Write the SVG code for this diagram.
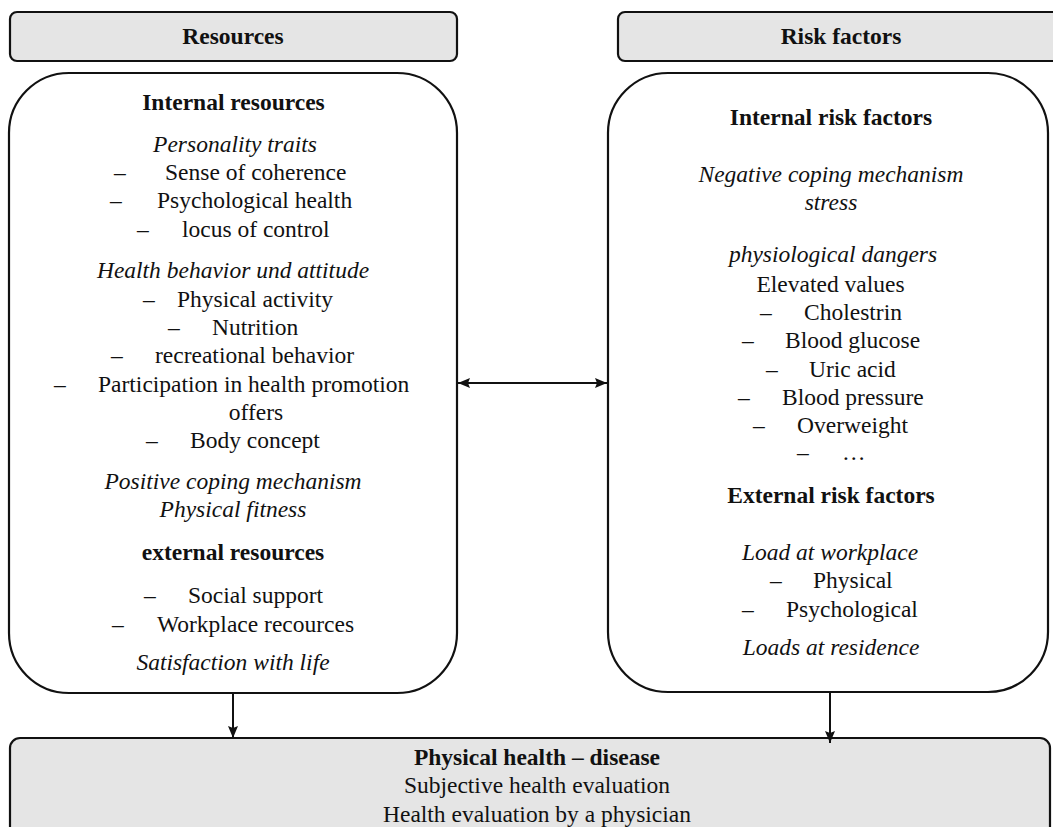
<svg xmlns="http://www.w3.org/2000/svg" width="1053" height="827" viewBox="0 0 1053 827">
<defs>
<style>
text{font-family:"Liberation Serif","Times New Roman",serif;font-size:23.5px;fill:#111}
.c{text-anchor:middle}
.b{font-weight:bold}
.i{font-style:italic}
.hdr{fill:#e5e5e5;stroke:#111;stroke-width:2.2}
.box{fill:#fff;stroke:#111;stroke-width:2.2}
.con{stroke:#111;stroke-width:2;fill:none}
</style>
<marker id="ah" markerWidth="12" markerHeight="10" refX="12" refY="5" orient="auto-start-reverse" markerUnits="userSpaceOnUse">
<path d="M0,0 L12,5 L0,10 L2,5 Z" fill="#111"/>
</marker>
</defs>
<rect width="1053" height="827" fill="#fff"/>

<g id="resources-header">
<rect class="hdr" x="10" y="12" width="447" height="49" rx="7"/>
<text class="c b" x="233" y="44">Resources</text>
</g>

<g id="risk-header">
<rect class="hdr" x="618" y="12" width="450" height="49" rx="7"/>
<text class="c b" x="841" y="44">Risk factors</text>
</g>

<g id="resources">
<rect class="box" x="9" y="73" width="448" height="620" rx="60"/>
<text class="c b" x="233.5" y="110">Internal resources</text>
<text class="c i" x="235" y="152">Personality traits</text>
<text x="114" y="180">–</text><text x="165" y="180">Sense of coherence</text>
<text x="110" y="208">–</text><text x="157" y="208">Psychological health</text>
<text x="137" y="237">–</text><text x="182" y="237">locus of control</text>
<text class="c i" x="233" y="278">Health behavior und attitude</text>
<text x="143" y="307">–</text><text x="177" y="307">Physical activity</text>
<text x="168" y="335">–</text><text x="212" y="335">Nutrition</text>
<text x="111" y="363">–</text><text x="155" y="363">recreational behavior</text>
<text x="54" y="392">–</text><text x="98" y="392">Participation in health promotion</text>
<text class="c" x="256" y="420">offers</text>
<text x="146" y="448">–</text><text x="190" y="448">Body concept</text>
<text class="c i" x="233" y="489">Positive coping mechanism</text>
<text class="c i" x="233" y="517">Physical fitness</text>
<text class="c b" x="233" y="560">external resources</text>
<text x="144" y="603">–</text><text x="188" y="603">Social support</text>
<text x="112" y="632">–</text><text x="157" y="632">Workplace recources</text>
<text class="c i" x="233" y="670">Satisfaction with life</text>
</g>

<g id="risk-factors">
<rect class="box" x="608" y="73" width="440" height="619" rx="60"/>
<text class="c b" x="831" y="125">Internal risk factors</text>
<text class="c i" x="831" y="182">Negative coping mechanism</text>
<text class="c i" x="831" y="210">stress</text>
<text class="c i" x="833" y="262">physiological dangers</text>
<text class="c" x="830.5" y="292">Elevated values</text>
<text x="760" y="320">–</text><text x="804" y="320">Cholestrin</text>
<text x="742" y="348">–</text><text x="785" y="348">Blood glucose</text>
<text x="766" y="377">–</text><text x="809" y="377">Uric acid</text>
<text x="738" y="405">–</text><text x="782" y="405">Blood pressure</text>
<text x="753" y="433">–</text><text x="797" y="433">Overweight</text>
<text x="797" y="460">–</text><text x="842" y="460">…</text>
<text class="c b" x="831" y="503">External risk factors</text>
<text class="c i" x="830" y="560">Load at workplace</text>
<text x="770" y="588">–</text><text x="813" y="588">Physical</text>
<text x="742" y="617">–</text><text x="786" y="617">Psychological</text>
<text class="c i" x="831" y="655">Loads at residence</text>
</g>

<g id="outcome">
<rect class="hdr" x="10" y="738" width="1040" height="110" rx="10"/>
<text class="c b" x="537" y="765">Physical health – disease</text>
<text class="c" x="537" y="793">Subjective health evaluation</text>
<text class="c" x="537" y="822">Health evaluation by a physician</text>
</g>

<g id="connectors">
<line class="con" x1="458" y1="383" x2="607" y2="383" marker-start="url(#ah)" marker-end="url(#ah)"/>
<line class="con" x1="233" y1="694" x2="233" y2="738" marker-end="url(#ah)"/>
<line class="con" x1="830" y1="693" x2="830" y2="743" marker-end="url(#ah)"/>
</g>
</svg>
